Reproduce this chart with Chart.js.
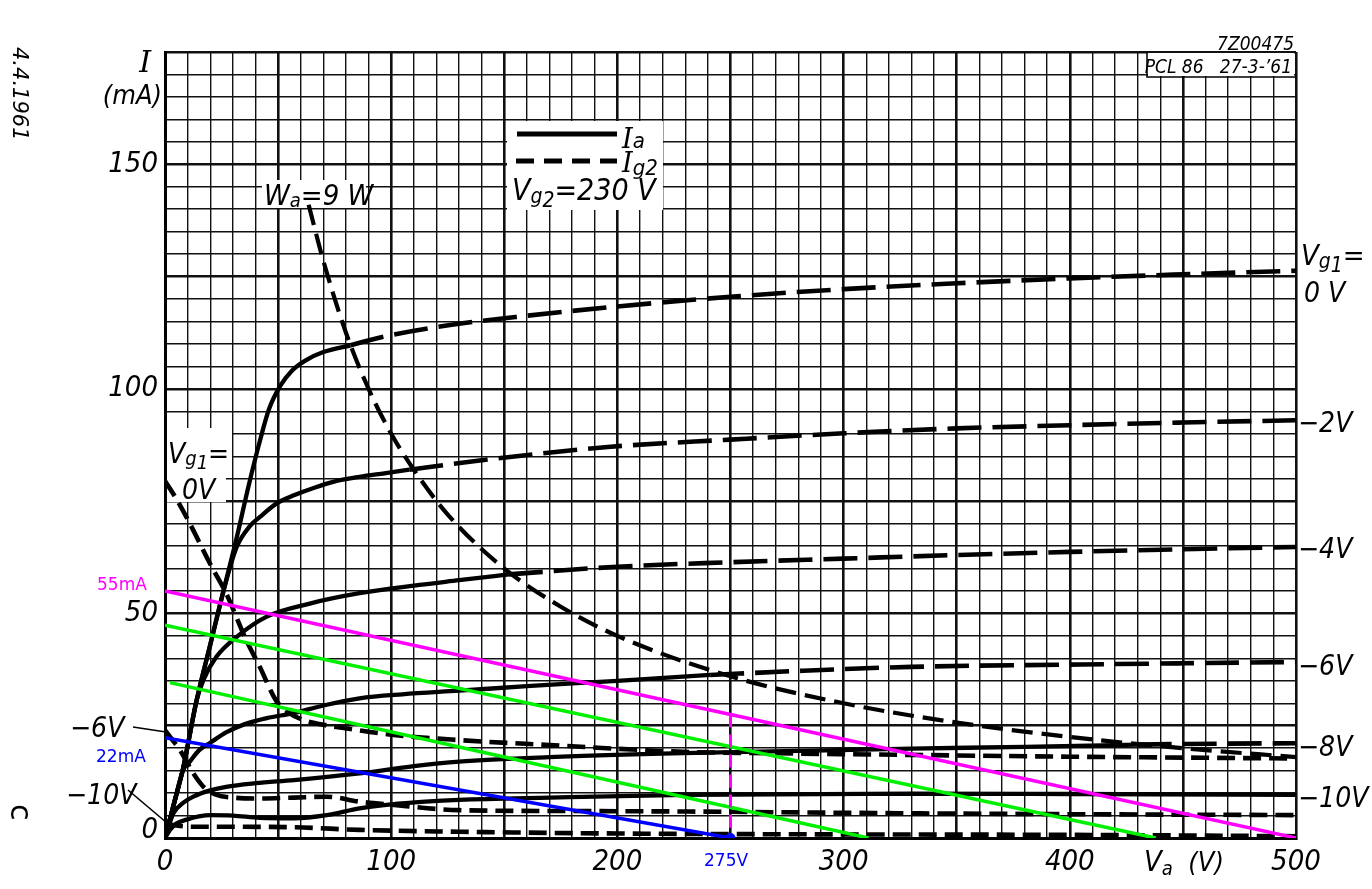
<!DOCTYPE html>
<html><head><meta charset="utf-8">
<script src="https://cdn.jsdelivr.net/npm/chart.js@4.4.1/dist/chart.umd.min.js"></script>
<style>html,body{margin:0;padding:0;background:#fff;overflow:hidden}</style>
</head><body>
<canvas id="c" width="1372" height="889"></canvas>
<script>
// ---- axes ----
const xMin = 0, xMax = 500, xStep = 10;
const yMin = 0, yMax = 175, yStep = 5;
const xTickLabels = [0, 100, 200, 300, 400, 500];
const yTickLabels = [50, 100, 150];

// ---- anode current Ia (solid part, below Wa = 9 W) ----
const ia0_v = [0, 4, 8, 14, 20, 26, 32, 37, 42, 46, 51, 56, 62, 70, 82];
const ia0_i = [0, 7.7, 15.5, 30.7, 43, 55.3, 67.5, 78.5, 88.5, 95.5, 100.7, 104, 106.3, 108.2, 109.7];
const ia0d_v = [82, 96.5, 126, 155, 197, 250, 300, 350, 400, 450, 500];
const ia0d_i = [109.7, 111.6, 114.2, 116, 118.2, 120.5, 122.2, 123.5, 124.6, 125.5, 126.3];

const ia2_v = [0, 4, 8, 14, 20, 26, 31.7, 37.6, 42, 49.4, 57, 66, 74.4, 86, 97, 108];
const ia2_i = [0, 7.7, 15.5, 30.7, 43, 55.3, 64.8, 69.5, 71.5, 74.5, 76.3, 78, 79.3, 80.4, 81.2, 82];
const ia2d_v = [108, 140, 197, 250, 300, 350, 400, 450, 500];
const ia2d_i = [82, 84.1, 87.1, 88.7, 90.1, 91.2, 91.9, 92.5, 93];

const ia4_v = [0, 4, 8, 14, 17, 22.8, 31.7, 45, 64, 86, 110, 130, 152];
const ia4_i = [0, 7.7, 15.5, 30.7, 35.2, 40.4, 44.8, 49.3, 52.2, 54.5, 56.2, 57.4, 58.7];
const ia4d_v = [152, 200, 250, 300, 350, 400, 450, 500];
const ia4d_i = [58.7, 60.4, 61.4, 62.2, 63, 63.7, 64.3, 64.8];

const ia6_v = [0, 4, 8, 11, 15, 20, 27, 35, 45, 57, 70, 86, 105, 130, 160, 200, 241];
const ia6_i = [0, 7.7, 15.1, 17, 19.5, 21.2, 23.5, 25.3, 26.7, 27.8, 29.5, 31.1, 32, 32.8, 33.8, 35, 36.3];
const ia6d_v = [241, 280, 330, 400, 450, 500];
const ia6d_i = [36.3, 37.2, 38.1, 38.6, 38.9, 39.2];

const ia8_v = [0, 3.7, 8, 12.5, 20, 27, 40, 57, 86, 110, 130, 170, 229, 280, 330, 380, 430];
const ia8_i = [0, 5.5, 7.8, 9.2, 10.6, 11.4, 12.2, 12.9, 14.4, 16, 17, 18, 18.9, 19.4, 19.9, 20.3, 20.8];
const ia8d_v = [430, 465, 500];
const ia8d_i = [20.8, 21, 21.1];

const ia10_v = [0, 2.2, 5, 9.6, 15, 20, 30, 42, 57, 71.5, 86, 100, 115, 130, 170, 230, 330, 400, 500];
const ia10_i = [0, 1.8, 3.2, 4.1, 4.8, 5.1, 5, 4.5, 4.4, 5.1, 6.6, 7.5, 8.1, 8.5, 9.0, 9.6, 9.9, 9.8, 9.6];

// ---- screen grid current Ig2 ----
const ig0_v = [0, 5, 11, 20, 27, 36, 42, 49, 55, 61, 70, 79, 100, 130, 170, 229, 280, 329, 400, 450, 500];
const ig0_i = [79.5, 75.5, 70, 61, 54.5, 44, 38, 30.7, 27.8, 26.3, 25.2, 24.5, 23, 21.8, 20.7, 19.2, 18.8, 18.5, 18.1, 17.9, 17.7];
const ig6_v = [0, 3, 6.6, 12.5, 17, 22.8, 30, 42, 57, 71.5, 86, 100, 130, 180, 229, 329, 400, 500];
const ig6_i = [24, 22, 19.6, 14.4, 11.4, 9.6, 9.0, 8.8, 9.0, 9.2, 8.1, 7.4, 6.2, 6.0, 5.9, 5.5, 5.3, 5.1];
const ig10_v = [0, 5, 12.5, 27, 57, 86, 130, 200, 300, 400, 500];
const ig10_i = [3.2, 2.8, 2.5, 2.5, 2.4, 1.8, 1.4, 1.0, 0.8, 0.7, 0.4];

// ---- max anode dissipation Wa = 9 W ----
const wa_v = [63.5, 70, 80, 90, 100, 110, 125, 150, 175, 200, 250, 300, 350, 400, 450, 500];
const wa_i = [141, 128.5, 112.5, 100, 90, 82, 72, 60, 51.5, 45, 36, 30, 25.7, 22.5, 20, 18];

// ---- load lines (overlay) ----
const mag_v = [0, 500], mag_i = [55, 0];
const grn1_v = [0, 438], grn1_i = [47.4, 0];
const grn2_v = [2.2, 311], grn2_i = [34.6, 0];
const blu_v = [0, 250], blu_i = [22.3, 0];
const magV_v = [250, 250], magV_i = [27.5, 1.5];
const dot_v = [250], dot_i = [0];

function pts(v, i) { return v.map((x, k) => ({ x: x, y: i[k] })); }
const datasets = [];
function add(v, i, opt) {
  datasets.push(Object.assign({
    data: pts(v, i), borderColor: '#000', borderWidth: 4.3, pointRadius: 0,
    fill: false, tension: 0.4, cubicInterpolationMode: 'monotone', order: 2,
    borderCapStyle: 'butt'
  }, opt));
}
// overlays first (drawn on top)
add(magV_v, magV_i, { borderColor: '#ff00ff', borderWidth: 3, borderDash: [13, 7], tension: 0, order: 0 });
add(dot_v, dot_i, { borderColor: '#0000ff', backgroundColor: '#0000ff', pointRadius: 5, pointBorderWidth: 0, showLine: false, order: 0 });
add(mag_v, mag_i, { borderColor: '#ff00ff', borderWidth: 3.5, tension: 0, order: 0 });
add(grn1_v, grn1_i, { borderColor: '#00f000', borderWidth: 3.5, tension: 0, order: 0 });
add(grn2_v, grn2_i, { borderColor: '#00f000', borderWidth: 3.5, tension: 0, order: 0 });
add(blu_v, blu_i, { borderColor: '#0000ff', borderWidth: 3.5, tension: 0, order: 0 });
// Ia solid
[[ia0_v, ia0_i], [ia2_v, ia2_i], [ia4_v, ia4_i], [ia6_v, ia6_i], [ia8_v, ia8_i], [ia10_v, ia10_i]]
  .forEach(a => add(a[0], a[1], { borderWidth: 4.3 }));
// Ia dashed continuation
[[ia0d_v, ia0d_i], [ia2d_v, ia2d_i], [ia4d_v, ia4d_i], [ia6d_v, ia6d_i], [ia8d_v, ia8d_i]]
  .forEach(a => add(a[0], a[1], { borderWidth: 4.6, borderDash: [34, 11] }));
// Ig2
[[ig0_v, ig0_i], [ig6_v, ig6_i], [ig10_v, ig10_i]]
  .forEach(a => add(a[0], a[1], { borderWidth: 4.6, borderDash: [18, 8] }));
// Wa hyperbola
add(wa_v, wa_i, { borderWidth: 4.2, borderDash: [21, 9] });

const FAM = '"Liberation Sans Narrow", "DejaVu Sans Condensed", "DejaVu Sans", sans-serif';
function F(sz, fam) { return 'italic ' + sz + 'px ' + (fam || FAM); }

function rich(ctx, x, y, parts, align) {
  const w = parts.map(p => { ctx.font = F(p[1], p[3]); return ctx.measureText(p[0]).width; });
  const tot = w.reduce((a, b) => a + b, 0);
  let cx = align === 'right' ? x - tot : (align === 'center' ? x - tot / 2 : x);
  parts.forEach((p, k) => { ctx.font = F(p[1], p[3]); ctx.fillText(p[0], cx, y + (p[2] || 0)); cx += w[k]; });
}
const SERIF = '"DejaVu Serif", "Liberation Serif", serif';

const boxPlugin = {
  id: 'boxes',
  beforeDatasetsDraw(chart) {
    const c = chart.ctx;
    c.save();
    c.fillStyle = '#fff';
    c.fillRect(507, 121, 156, 89);   // legend
    c.fillRect(262, 180, 104, 28);   // Wa label
    c.fillRect(167, 428, 65, 42);    // Vg1= left
    c.fillRect(167, 470, 59, 32);
    c.fillRect(1148, 53, 146, 23);   // PCL box
    c.strokeStyle = '#000'; c.lineWidth = 1.5;
    c.beginPath(); c.moveTo(1147, 52); c.lineTo(1147, 77); c.lineTo(1296, 77); c.stroke();
    c.restore();
  }
};

const textPlugin = {
  id: 'texts',
  afterDraw(chart) {
    const c = chart.ctx;
    c.save();
    c.fillStyle = '#000'; c.strokeStyle = '#000';
    c.textBaseline = 'alphabetic'; c.textAlign = 'left';
    // axis titles
    rich(c, 151, 72, [['I', 30, 0, SERIF]], 'right');
    rich(c, 162, 104, [['(mA)', 27]], 'right');
    rich(c, 1144, 871, [['V', 29], ['a', 20, 4], ['  (V)', 27]]);
    // y-axis zero label (sits above the corner in the original)
    rich(c, 158, 838, [['0', 29]], 'right');
    // top right
    rich(c, 1294, 50, [['7Z00475', 19]], 'right');
    rich(c, 1292, 73, [['PCL 86   27-3-\u201961', 19]], 'right');
    // Wa
    rich(c, 264, 205, [['W', 29], ['a', 20, 2], ['=9 W', 29]]);
    // legend
    c.lineWidth = 5;
    c.beginPath(); c.moveTo(517, 134); c.lineTo(617, 134); c.stroke();
    c.setLineDash([18, 10]);
    c.beginPath(); c.moveTo(516, 161); c.lineTo(617, 161); c.stroke();
    c.setLineDash([]);
    rich(c, 622, 148, [['I', 27, 0, SERIF], ['a', 22, 0]]);
    rich(c, 622, 172, [['I', 27, 0, SERIF], ['g2', 22, 3]]);
    rich(c, 512, 200, [['V', 30], ['g', 21, 3], ['2', 21, 7], ['=230 V', 30]]);
    // left Vg1 = 0V
    rich(c, 168, 463, [['V', 28], ['g', 20, 2], ['1', 20, 6], ['=', 28]]);
    rich(c, 182, 499, [['0V', 28]]);
    // right labels
    rich(c, 1301, 265, [['V', 29], ['g', 21, 3], ['1', 21, 7], ['=', 29]]);
    rich(c, 1304, 302, [['0 V', 28]]);
    rich(c, 1298, 432, [['\u22122V', 28]]);
    rich(c, 1298, 558, [['\u22124V', 28]]);
    rich(c, 1298, 675, [['\u22126V', 28]]);
    rich(c, 1298, 756, [['\u22128V', 28]]);
    rich(c, 1298, 807, [['\u221210V', 28]]);
    // left labels with leaders
    rich(c, 70, 737, [['\u22126V', 28]]);
    rich(c, 66, 804, [['\u221210V', 28]]);
    c.lineWidth = 1.6;
    c.beginPath(); c.moveTo(133, 727); c.lineTo(166, 732); c.stroke();
    c.beginPath(); c.moveTo(128, 790); c.lineTo(167, 823); c.stroke();
    // coloured annotations
    c.font = '17px "DejaVu Sans", sans-serif';
    c.fillStyle = '#ff00ff'; c.fillText('55mA', 97, 590);
    c.fillStyle = '#0000ff'; c.fillText('22mA', 96, 762);
    c.fillText('275V', 704, 866);
    // rotated margin notes
    c.fillStyle = '#000';
    c.save(); c.translate(13, 47); c.rotate(Math.PI / 2);
    c.font = F(21, '"DejaVu Sans", sans-serif'); c.fillText('4.4.1961', 0, 0); c.restore();
    c.save(); c.translate(11, 804); c.rotate(Math.PI / 2);
    c.font = '30px "DejaVu Sans", sans-serif'; c.fillText('c', 0, 0); c.restore();
    c.restore();
  }
};

const gridW = (base) => (ctx) => (ctx.tick && Math.round(ctx.tick.value) % base === 0) ? 2.6 : 1.4;

new Chart(document.getElementById('c').getContext('2d'), {
  type: 'line',
  data: { datasets: datasets },
  options: {
    responsive: false, animation: false, devicePixelRatio: 1,
    layout: { padding: { left: 0, top: 52, right: 76, bottom: 0 } },
    plugins: { legend: { display: false }, tooltip: { enabled: false } },
    scales: {
      x: {
        type: 'linear', min: xMin, max: xMax,
        ticks: {
          stepSize: xStep, autoSkip: false, maxRotation: 0, minRotation: 0, maxTicksLimit: 1000,
          callback: v => xTickLabels.includes(Math.round(v)) ? String(Math.round(v)) : '',
          font: { family: FAM, size: 29, style: 'italic' }, color: '#000', padding: 7
        },
        grid: { color: '#111', lineWidth: gridW(50), drawTicks: false },
        border: { display: true, color: '#000', width: 3 },
        afterFit: s => { s.height = 51; }
      },
      y: {
        type: 'linear', min: yMin, max: yMax,
        ticks: {
          stepSize: yStep, autoSkip: false, maxTicksLimit: 1000,
          callback: v => yTickLabels.includes(Math.round(v)) ? String(Math.round(v)) : '',
          font: { family: FAM, size: 29, style: 'italic' }, color: '#000', padding: 7
        },
        grid: { color: '#111', lineWidth: gridW(25), drawTicks: false },
        border: { display: true, color: '#000', width: 3 },
        afterFit: s => { s.width = 165; }
      }
    }
  },
  plugins: [boxPlugin, textPlugin]
});
</script>
</body></html>
